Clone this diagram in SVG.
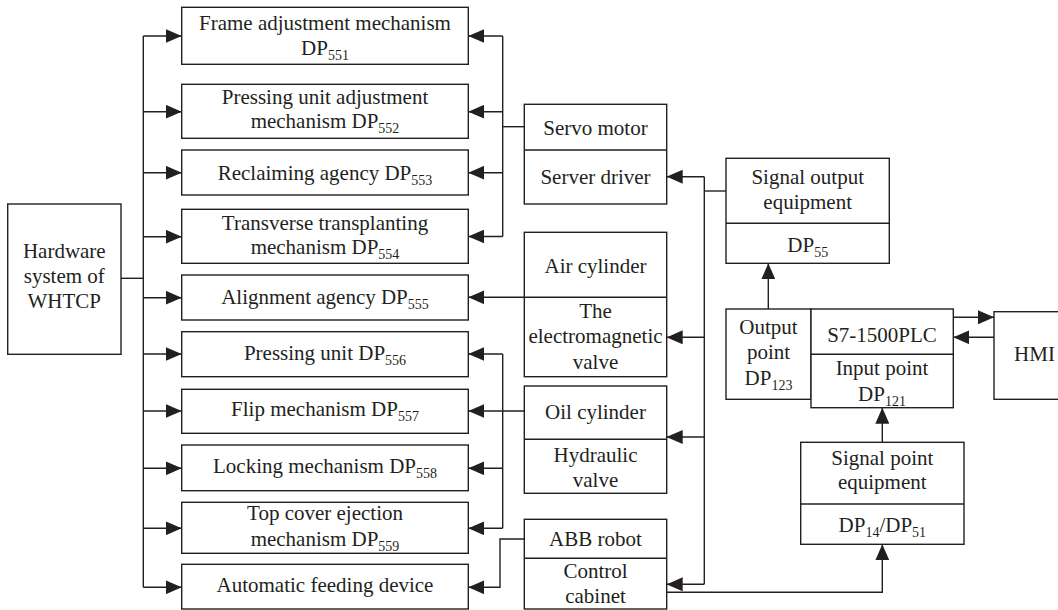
<svg xmlns="http://www.w3.org/2000/svg" width="1058" height="610" viewBox="0 0 1058 610">
  <style>
    .box { fill: #ffffff; stroke: #231f20; stroke-width: 1.4; }
    .div { fill: none; stroke: #231f20; stroke-width: 1.4; }
    .ln { fill: none; stroke: #231f20; stroke-width: 1.4; }
    .arr { fill: none; stroke: #231f20; stroke-width: 1.4; marker-end: url(#head); }
    text { font-size: 21px; fill: #231f20; }
    .sub { font-size: 14px; }
  </style>
  <defs>
    <marker id="head" markerUnits="userSpaceOnUse" markerWidth="16" markerHeight="14" refX="16" refY="7" orient="auto">
      <path d="M0,0 L16,7 L0,14 Z" fill="#231f20"/>
    </marker>
  </defs>
  <rect width="1058" height="610" fill="#ffffff"/>

  <!-- connectors -->
  <g id="connectors">
    <!-- root to left bus -->
    <path class="ln" d="M121,278.3 H143.3"/>
    <path class="ln" d="M143.3,36 V587.3"/>
    <path class="arr" d="M143.3,36 H181.7"/>
    <path class="arr" d="M143.3,111.7 H181.7"/>
    <path class="arr" d="M143.3,172.7 H181.7"/>
    <path class="arr" d="M143.3,236.7 H181.7"/>
    <path class="arr" d="M143.3,297.7 H181.7"/>
    <path class="arr" d="M143.3,354 H181.7"/>
    <path class="arr" d="M143.3,411 H181.7"/>
    <path class="arr" d="M143.3,468.3 H181.7"/>
    <path class="arr" d="M143.3,528.3 H181.7"/>
    <path class="arr" d="M143.3,587.3 H181.7"/>

    <!-- servo motor bus -->
    <path class="ln" d="M524.3,126.7 H502.7"/>
    <path class="ln" d="M502.7,36 V236.5"/>
    <path class="arr" d="M502.7,36 H468.3"/>
    <path class="arr" d="M502.7,111.7 H468.3"/>
    <path class="arr" d="M502.7,172.7 H468.3"/>
    <path class="arr" d="M502.7,236.5 H468.3"/>

    <!-- air cylinder -->
    <path class="arr" d="M524.3,297.3 H468.3"/>

    <!-- oil cylinder bus -->
    <path class="arr" d="M524.3,411 H468.3"/>
    <path class="ln" d="M502.7,354 V528.3"/>
    <path class="arr" d="M502.7,354 H468.3"/>
    <path class="arr" d="M502.7,468.3 H468.3"/>
    <path class="arr" d="M502.7,528.3 H468.3"/>

    <!-- ABB robot -->
    <path class="arr" d="M524.3,539 H500 V587.3 H468.3"/>

    <!-- signal output bus -->
    <path class="ln" d="M704.3,176.7 V584.3"/>
    <path class="ln" d="M704.3,191 H726"/>
    <path class="arr" d="M704.3,176.7 H666.7"/>
    <path class="arr" d="M704.3,337.3 H666.7"/>
    <path class="arr" d="M704.3,437 H666.7"/>
    <path class="arr" d="M704.3,584.3 H666.7"/>

    <!-- PLC links -->
    <path class="arr" d="M768.3,309 V263.3"/>
    <path class="arr" d="M953.3,317.3 H994"/>
    <path class="arr" d="M994,337.3 H953.3"/>
    <path class="arr" d="M882.3,442.3 V407.7"/>
    <path class="arr" d="M666.7,592.3 H882.3 V544.3"/>
  </g>

  <!-- root -->
  <g id="hardware">
    <rect class="box" x="7.7" y="204" width="113.3" height="150.3"/>
    <text font-family="Liberation Serif" text-anchor="middle" x="64.3" y="258.3">Hardware</text>
    <text font-family="Liberation Serif" text-anchor="middle" x="64.3" y="283">system of</text>
    <text font-family="Liberation Serif" text-anchor="middle" x="64.3" y="308.3">WHTCP</text>
  </g>

  <!-- mechanisms -->
  <g id="frame">
    <rect class="box" x="181.7" y="7.3" width="286.6" height="57"/>
    <text font-family="Liberation Serif" text-anchor="middle" x="325" y="29.5">Frame adjustment mechanism</text>
    <text font-family="Liberation Serif" text-anchor="middle" x="325" y="55">DP<tspan class="sub" dy="5">551</tspan></text>
  </g>
  <g id="pressing-adjust">
    <rect class="box" x="181.7" y="84.3" width="286.6" height="54"/>
    <text font-family="Liberation Serif" text-anchor="middle" x="325" y="104">Pressing unit adjustment</text>
    <text font-family="Liberation Serif" text-anchor="middle" x="325" y="128.3">mechanism DP<tspan class="sub" dy="5">552</tspan></text>
  </g>
  <g id="reclaiming">
    <rect class="box" x="181.7" y="150" width="286.6" height="45"/>
    <text font-family="Liberation Serif" text-anchor="middle" x="325" y="179.5">Reclaiming agency DP<tspan class="sub" dy="5">553</tspan></text>
  </g>
  <g id="transverse">
    <rect class="box" x="181.7" y="209.3" width="286.6" height="54"/>
    <text font-family="Liberation Serif" text-anchor="middle" x="325" y="230">Transverse transplanting</text>
    <text font-family="Liberation Serif" text-anchor="middle" x="325" y="253.5">mechanism DP<tspan class="sub" dy="5">554</tspan></text>
  </g>
  <g id="alignment">
    <rect class="box" x="181.7" y="275" width="286.6" height="45"/>
    <text font-family="Liberation Serif" text-anchor="middle" x="325" y="303.5">Alignment agency DP<tspan class="sub" dy="5">555</tspan></text>
  </g>
  <g id="pressing">
    <rect class="box" x="181.7" y="331.7" width="286.6" height="45"/>
    <text font-family="Liberation Serif" text-anchor="middle" x="325" y="359.5">Pressing unit DP<tspan class="sub" dy="5">556</tspan></text>
  </g>
  <g id="flip">
    <rect class="box" x="181.7" y="389.3" width="286.6" height="44"/>
    <text font-family="Liberation Serif" text-anchor="middle" x="325" y="416">Flip mechanism DP<tspan class="sub" dy="5">557</tspan></text>
  </g>
  <g id="locking">
    <rect class="box" x="181.7" y="445" width="286.6" height="45.7"/>
    <text font-family="Liberation Serif" text-anchor="middle" x="325" y="473">Locking mechanism DP<tspan class="sub" dy="5">558</tspan></text>
  </g>
  <g id="top-cover">
    <rect class="box" x="181.7" y="502.3" width="286.6" height="51"/>
    <text font-family="Liberation Serif" text-anchor="middle" x="325" y="520">Top cover ejection</text>
    <text font-family="Liberation Serif" text-anchor="middle" x="325" y="545.5">mechanism DP<tspan class="sub" dy="5">559</tspan></text>
  </g>
  <g id="feeding">
    <rect class="box" x="181.7" y="564.3" width="286.6" height="44.7"/>
    <text font-family="Liberation Serif" text-anchor="middle" x="325" y="592">Automatic feeding device</text>
  </g>

  <!-- actuators -->
  <g id="servo">
    <rect class="box" x="524.3" y="104.3" width="142.4" height="99.7"/>
    <path class="div" d="M524.3,150 H666.7"/>
    <text font-family="Liberation Serif" text-anchor="middle" x="595.5" y="135">Servo motor</text>
    <text font-family="Liberation Serif" text-anchor="middle" x="595.5" y="183.5">Server driver</text>
  </g>
  <g id="air">
    <rect class="box" x="524.3" y="232.3" width="142.4" height="144.4"/>
    <path class="div" d="M524.3,297.3 H666.7"/>
    <text font-family="Liberation Serif" text-anchor="middle" x="595.5" y="272.7">Air cylinder</text>
    <text font-family="Liberation Serif" text-anchor="middle" x="595.5" y="317.5">The</text>
    <text font-family="Liberation Serif" text-anchor="middle" x="595.5" y="343.3">electromagnetic</text>
    <text font-family="Liberation Serif" text-anchor="middle" x="595.5" y="369.3">valve</text>
  </g>
  <g id="oil">
    <rect class="box" x="524.3" y="386" width="142.4" height="107.3"/>
    <path class="div" d="M524.3,439.3 H666.7"/>
    <text font-family="Liberation Serif" text-anchor="middle" x="595.5" y="418.5">Oil cylinder</text>
    <text font-family="Liberation Serif" text-anchor="middle" x="595.5" y="461.7">Hydraulic</text>
    <text font-family="Liberation Serif" text-anchor="middle" x="595.5" y="486.7">valve</text>
  </g>
  <g id="abb">
    <rect class="box" x="524.3" y="519.3" width="142.4" height="89.7"/>
    <path class="div" d="M524.3,558.3 H666.7"/>
    <text font-family="Liberation Serif" text-anchor="middle" x="595.5" y="546">ABB robot</text>
    <text font-family="Liberation Serif" text-anchor="middle" x="595.5" y="578.3">Control</text>
    <text font-family="Liberation Serif" text-anchor="middle" x="595.5" y="603.3">cabinet</text>
  </g>

  <!-- control side -->
  <g id="signal-output">
    <rect class="box" x="726" y="158.3" width="163.3" height="105"/>
    <path class="div" d="M726,223.3 H889.3"/>
    <text font-family="Liberation Serif" text-anchor="middle" x="807.7" y="183.5">Signal output</text>
    <text font-family="Liberation Serif" text-anchor="middle" x="807.7" y="208.5">equipment</text>
    <text font-family="Liberation Serif" text-anchor="middle" x="807.7" y="251.7">DP<tspan class="sub" dy="5">55</tspan></text>
  </g>
  <g id="output-point">
    <rect class="box" x="726" y="309" width="85" height="90.3"/>
    <text font-family="Liberation Serif" text-anchor="middle" x="768.5" y="334">Output</text>
    <text font-family="Liberation Serif" text-anchor="middle" x="768.5" y="359.3">point</text>
    <text font-family="Liberation Serif" text-anchor="middle" x="768.5" y="385">DP<tspan class="sub" dy="5">123</tspan></text>
  </g>
  <g id="plc">
    <rect class="box" x="811" y="309" width="142.3" height="98.7"/>
    <path class="div" d="M811,354.3 H953.3"/>
    <text font-family="Liberation Serif" text-anchor="middle" x="882" y="342.3">S7-1500PLC</text>
    <text font-family="Liberation Serif" text-anchor="middle" x="882" y="375">Input point</text>
    <text font-family="Liberation Serif" text-anchor="middle" x="882" y="400.5">DP<tspan class="sub" dy="5">121</tspan></text>
  </g>
  <g id="hmi">
    <rect class="box" x="994" y="311.7" width="70" height="87.6"/>
    <text font-family="Liberation Serif" text-anchor="middle" x="1034.5" y="360.7">HMI</text>
  </g>
  <g id="signal-point">
    <rect class="box" x="800.7" y="442.3" width="163.3" height="102"/>
    <path class="div" d="M800.7,504 H964"/>
    <text font-family="Liberation Serif" text-anchor="middle" x="882.3" y="465">Signal point</text>
    <text font-family="Liberation Serif" text-anchor="middle" x="882.3" y="489.3">equipment</text>
    <text font-family="Liberation Serif" text-anchor="middle" x="882.3" y="531.7">DP<tspan class="sub" dy="5">14</tspan><tspan dy="-5">/DP</tspan><tspan class="sub" dy="5">51</tspan></text>
  </g>
</svg>
